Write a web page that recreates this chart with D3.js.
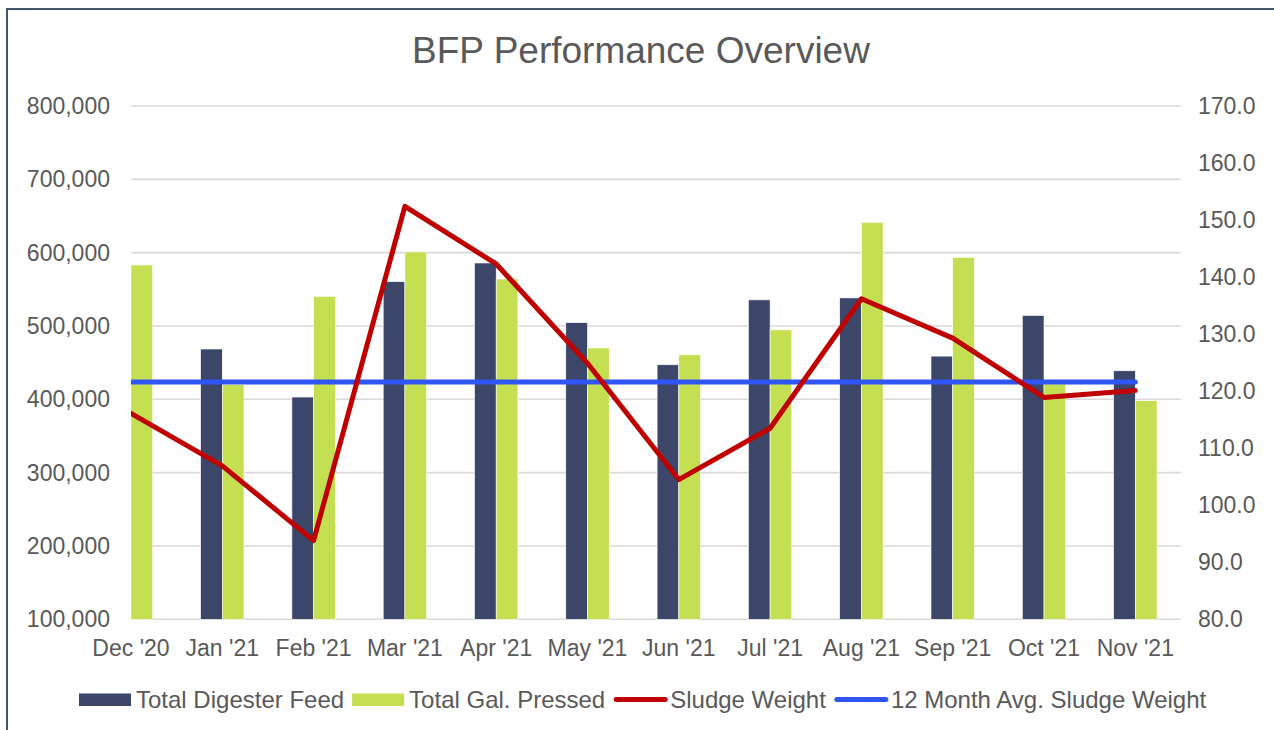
<!doctype html>
<html lang="en">
<head>
  <meta charset="utf-8">
  <title>BFP Performance Overview</title>
  <script src="https://d3js.org/d3.v7.min.js"></script>
  <style>
    body { margin: 0; background: #fff; }
    text { font-family: "Liberation Sans", Arial, sans-serif; fill: #595959; }
  </style>
</head>
<body>
  <svg id="chart" width="1274" height="730"></svg>
  <script>
    // values
    var months = ["Dec '20", "Jan '21", "Feb '21", "Mar '21", "Apr '21", "May '21",
                  "Jun '21", "Jul '21", "Aug '21", "Sep '21", "Oct '21", "Nov '21"];
    var digesterFeed = [null, 468600, 403100, 560400, 585900, 504500, 447100, 535600, 538300, 458900, 514300, 438900];
    var galPressed = [583200, 420000, 540500, 601000, 564100, 470000, 460700, 494700, 641300, 593600, 421000, 398100];
    var sludgeWeight = [116.1, 106.9, 93.8, 152.4, 142.3, 124.9, 104.5, 113.5, 136.2, 129.3, 118.9, 120.1];
    var avgSludgeWeight = [121.6, 121.6, 121.6, 121.6, 121.6, 121.6, 121.6, 121.6, 121.6, 121.6, 121.6, 121.6];
    var leftTicks = [100000, 200000, 300000, 400000, 500000, 600000, 700000, 800000];
    var rightTicks = [80, 90, 100, 110, 120, 130, 140, 150, 160, 170];

    var svg = d3.select("#chart");

    var plotLeft = 131, plotRight = 1181, plotTop = 106, plotBottom = 619.3;
    var barW = 21.7;

    var x = d3.scalePoint().domain(months).range([131, 1135.3]);
    var yL = d3.scaleLinear().domain([100000, 800000]).range([plotBottom, plotTop]);
    var yR = d3.scaleLinear().domain([80, 170]).range([plotBottom, plotTop]);

    // outer chart border
    svg.append("rect")
      .attr("x", 7).attr("y", 9).attr("width", 1400).attr("height", 900)
      .attr("fill", "none").attr("stroke", "#44546a").attr("stroke-width", 2);

    // title
    svg.append("text")
      .attr("x", 641).attr("y", 63)
      .attr("text-anchor", "middle")
      .style("font-size", "37px")
      .text("BFP Performance Overview");

    // gridlines
    svg.append("g").selectAll("line")
      .data(leftTicks)
      .enter().append("line")
      .attr("x1", plotLeft).attr("x2", plotRight)
      .attr("y1", d => yL(d)).attr("y2", d => yL(d))
      .attr("stroke", "#d9d9d9").attr("stroke-width", 1.6);

    // left axis labels
    var fmt = d3.format(",");
    svg.append("g").selectAll("text")
      .data(leftTicks)
      .enter().append("text")
      .attr("x", 110).attr("y", d => yL(d))
      .attr("dy", "0.35em")
      .attr("text-anchor", "end")
      .style("font-size", "23px")
      .text(d => fmt(d));

    // right axis labels
    svg.append("g").selectAll("text")
      .data(rightTicks)
      .enter().append("text")
      .attr("x", 1198).attr("y", d => yR(d))
      .attr("dy", "0.35em")
      .style("font-size", "23px")
      .text(d => d.toFixed(1));

    // category labels
    svg.append("g").selectAll("text")
      .data(months)
      .enter().append("text")
      .attr("x", d => x(d)).attr("y", 656)
      .attr("text-anchor", "middle")
      .style("font-size", "23px")
      .text(d => d);

    svg.append("clipPath").attr("id", "plotclip")
      .append("rect")
      .attr("x", plotLeft).attr("y", 0)
      .attr("width", plotRight - plotLeft).attr("height", 730);

    var plot = svg.append("g").attr("clip-path", "url(#plotclip)");

    // bars
    plot.append("g").selectAll("rect")
      .data(months.map((m, i) => ({ m: m, v: digesterFeed[i] })).filter(d => d.v != null))
      .enter().append("rect")
      .attr("x", d => x(d.m) - barW)
      .attr("y", d => yL(d.v))
      .attr("width", barW)
      .attr("height", d => plotBottom - yL(d.v))
      .attr("fill", "#3b4669")
      .attr("stroke", "#ffffff").attr("stroke-width", 0.6);

    plot.append("g").selectAll("rect")
      .data(months.map((m, i) => ({ m: m, v: galPressed[i] })))
      .enter().append("rect")
      .attr("x", d => x(d.m))
      .attr("y", d => yL(d.v))
      .attr("width", barW)
      .attr("height", d => plotBottom - yL(d.v))
      .attr("fill", "#c5df53")
      .attr("stroke", "#ffffff").attr("stroke-width", 0.6);

    // lines on the right axis
    var line = d3.line()
      .x((d, i) => x(months[i]))
      .y(d => yR(d));

    plot.append("path")
      .datum(avgSludgeWeight)
      .attr("d", line)
      .attr("fill", "none")
      .attr("stroke", "#2f55f6")
      .attr("stroke-width", 5)
      .attr("stroke-linecap", "round");

    plot.append("path")
      .datum(sludgeWeight)
      .attr("d", line)
      .attr("fill", "none")
      .attr("stroke", "#c00000")
      .attr("stroke-width", 5)
      .attr("stroke-linejoin", "round")
      .attr("stroke-linecap", "round");

    // legend
    var legendItems = [
      { name: "Total Digester Feed", color: "#3b4669", type: "bar" },
      { name: "Total Gal. Pressed", color: "#c5df53", type: "bar" },
      { name: "Sludge Weight", color: "#c00000", type: "line" },
      { name: "12 Month Avg. Sludge Weight", color: "#2f55f6", type: "line" }
    ];
    var legend = svg.append("g");
    var lx = 79, ly = 700;
    legendItems.forEach(function (item) {
      if (item.type == "bar") {
        legend.append("rect")
          .attr("x", lx).attr("y", ly - 6.5)
          .attr("width", 52).attr("height", 12.5)
          .attr("fill", item.color);
      } else {
        legend.append("line")
          .attr("x1", lx + 3).attr("x2", lx + 52)
          .attr("y1", ly - 0.5).attr("y2", ly - 0.5)
          .attr("stroke", item.color)
          .attr("stroke-width", 5)
          .attr("stroke-linecap", "round");
      }
      var t = legend.append("text")
        .attr("x", lx + 57).attr("y", ly + 8)
        .style("font-size", "24px")
        .text(item.name);
      lx = lx + 57 + t.node().getComputedTextLength() + 8;
    });
  </script>
</body>
</html>
